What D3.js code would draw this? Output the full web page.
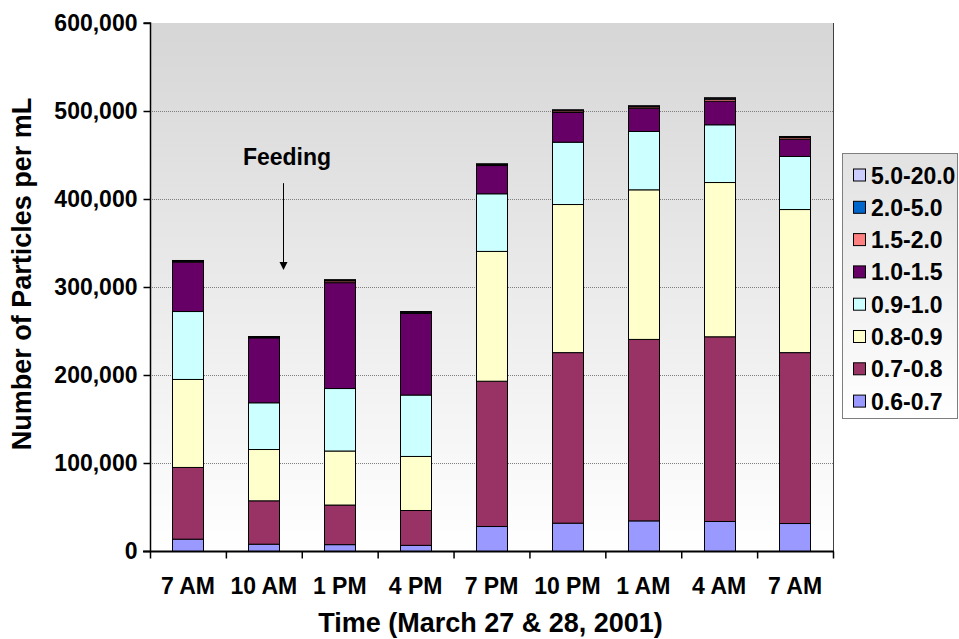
<!DOCTYPE html>
<html><head><meta charset="utf-8">
<script src="https://cdn.jsdelivr.net/npm/d3@7"></script>
<style>
html,body{margin:0;padding:0;background:#fff;}
svg{display:block;font-family:Arial,"Liberation Sans",sans-serif;font-weight:bold;}
</style></head>
<body>
<svg id="chart" width="959" height="639"></svg>
<script>
const categories = ["7 AM","10 AM","1 PM","4 PM","7 PM","10 PM","1 AM","4 AM","7 AM"];
const seriesNames = ["0.6-0.7","0.7-0.8","0.8-0.9","0.9-1.0","1.0-1.5","1.5-2.0","2.0-5.0","5.0-20.0"];
const seriesColors = ["#9999FF","#993366","#FFFFCC","#CCFFFF","#660066","#FF8080","#0066CC","#CCCCFF"];
const s06_07  = [14000, 8300, 7800, 7000, 28400, 32200, 34800, 34100, 31800];
const s07_08  = [81500, 49300, 45000, 39600, 165100, 193800, 206200, 209900, 194200];
const s08_09  = [100000, 58300, 61400, 61400, 147500, 168300, 170000, 175300, 162600];
const s09_10  = [77200, 53100, 71000, 69800, 65500, 70800, 66300, 65600, 60300];
const s10_15  = [56100, 73800, 120300, 92700, 32100, 33800, 26500, 26800, 19600];
const s15_20  = [1100, 900, 2000, 1300, 1100, 1800, 1600, 2300, 1800];
const s20_50  = [600, 450, 1000, 650, 600, 900, 800, 1200, 900];
const s50_200 = [200, 150, 400, 250, 200, 300, 300, 400, 400];
const yTicks = [0, 100000, 200000, 300000, 400000, 500000, 600000];
const yTitle = "Number of Particles per mL";
const xTitle = "Time (March 27 & 28, 2001)";
const annotation = "Feeding";
const annotationValues = [438600, 418000, 319300]; // text baseline, arrow start, arrow tip

const allSeries = [s06_07, s07_08, s08_09, s09_10, s10_15, s15_20, s20_50, s50_200];
const rows = categories.map((c, i) => {
  const r = {idx: i};
  seriesNames.forEach((n, k) => r[n] = allSeries[k][i]);
  return r;
});

const svg = d3.select("#chart");
const L = 150, R = 833, T = 23, B = 551;
const FS = 23, TFS = 27;

const x = d3.scaleBand().domain(d3.range(categories.length)).range([L, R]).paddingInner(0.59).paddingOuter(0.295);
const y = d3.scaleLinear().domain([0, 600000]).range([B, T]);

const defs = svg.append("defs");
const g1 = defs.append("linearGradient").attr("id","plotbg").attr("x1",0).attr("y1",0).attr("x2",0).attr("y2",1);
g1.append("stop").attr("offset","0%").attr("stop-color","#d6d6d6");
g1.append("stop").attr("offset","100%").attr("stop-color","#ffffff");
const g2 = defs.append("linearGradient").attr("id","legbg").attr("x1",0).attr("y1",0).attr("x2",0).attr("y2",1);
g2.append("stop").attr("offset","0%").attr("stop-color","#e2e2e2");
g2.append("stop").attr("offset","100%").attr("stop-color","#ffffff");

svg.append("rect").attr("x", L).attr("y", T).attr("width", R - L).attr("height", B - T).attr("fill", "url(#plotbg)");

svg.append("g").selectAll("line").data(yTicks.filter(v => v > 0 && v < 600000)).join("line")
  .attr("x1", L).attr("x2", R).attr("y1", d => y(d) + 0.5).attr("y2", d => y(d) + 0.5)
  .attr("stroke", "#7f7f7f").attr("stroke-width", 1).attr("stroke-dasharray", "1,1");

svg.append("line").attr("x1", R + 0.5).attr("x2", R + 0.5).attr("y1", T).attr("y2", B).attr("stroke", "#404040");

const stacked = d3.stack().keys(seriesNames)(rows);
svg.append("g").selectAll("g").data(stacked).join("g")
  .attr("fill", (d, k) => seriesColors[k])
  .selectAll("rect").data(d => d).join("rect")
  .attr("x", d => Math.round(x(d.data.idx)) + 0.5)
  .attr("width", Math.round(x.bandwidth()))
  .attr("y", d => y(d[1]) + 0.5)
  .attr("height", d => Math.max(0, y(d[0]) - y(d[1])))
  .attr("stroke", "#000").attr("stroke-width", 1);

const yAxis = d3.axisLeft(y).tickValues(yTicks).tickSize(7).tickPadding(6).tickFormat(d3.format(","));
const ya = svg.append("g").attr("transform", `translate(${L + 0.5},0)`).call(yAxis);
ya.select(".domain").attr("stroke", "#000").attr("stroke-width", 1.5).attr("d", `M-7,${T}H0V${B}`);
ya.selectAll(".tick line").attr("stroke", "#000").attr("stroke-width", 1.5);
ya.selectAll(".tick text").attr("font-size", FS).attr("font-weight", "bold").attr("fill", "#000")
  .attr("font-family", "Arial, 'Liberation Sans', sans-serif");

const xa = svg.append("g").attr("transform", `translate(0,${B + 0.5})`);
xa.append("line").attr("x1", L - 7).attr("x2", R + 1).attr("y1", 0).attr("y2", 0).attr("stroke", "#000").attr("stroke-width", 2);
const step = x.step();
xa.selectAll("line.tk").data(d3.range(categories.length + 1)).join("line").attr("class", "tk")
  .attr("x1", i => L + i * step + 0.5).attr("x2", i => L + i * step + 0.5)
  .attr("y1", 0).attr("y2", 7).attr("stroke", "#000").attr("stroke-width", 1.5);
xa.selectAll("text").data(categories).join("text")
  .attr("x", (d, i) => x(i) + x.bandwidth() / 2).attr("y", 42)
  .attr("text-anchor", "middle").attr("font-size", FS).attr("fill", "#000").text(d => d);

svg.append("text").attr("x", (L + R) / 2 - 1).attr("y", 632).attr("text-anchor", "middle")
  .attr("font-size", TFS).attr("fill", "#000").text(xTitle);
svg.append("text").attr("transform", `translate(31,274) rotate(-90)`).attr("text-anchor", "middle")
  .attr("font-size", TFS).attr("fill", "#000").text(yTitle);

const arrowX = 283.5;
svg.append("text").attr("x", 287).attr("y", y(annotationValues[0])).attr("text-anchor", "middle")
  .attr("font-size", FS).attr("fill", "#000").text(annotation);
svg.append("line").attr("x1", arrowX).attr("x2", arrowX).attr("y1", y(annotationValues[1])).attr("y2", y(annotationValues[2]) - 6)
  .attr("stroke", "#000").attr("stroke-width", 1);
svg.append("path").attr("d", `M${arrowX - 4},${y(annotationValues[2]) - 8}L${arrowX + 4},${y(annotationValues[2]) - 8}L${arrowX},${y(annotationValues[2])}Z`).attr("fill", "#000");

const lg = svg.append("g");
lg.append("rect").attr("x", 842.5).attr("y", 153.5).attr("width", 115).attr("height", 265)
  .attr("fill", "url(#legbg)").attr("stroke", "#7f7f7f").attr("stroke-width", 1);
const legendOrder = seriesNames.map((n, k) => ({n, c: seriesColors[k]})).reverse();
const le = lg.selectAll("g.it").data(legendOrder).join("g").attr("class", "it")
  .attr("transform", (d, i) => `translate(853,${175.5 + i * 32.3})`);
le.append("rect").attr("x", 0.5).attr("y", -6.5).attr("width", 12).attr("height", 12)
  .attr("fill", d => d.c).attr("stroke", "#000").attr("stroke-width", 1);
le.append("text").attr("x", 18).attr("y", 8).attr("font-size", FS).attr("fill", "#000").text(d => d.n);
</script>
</body></html>
